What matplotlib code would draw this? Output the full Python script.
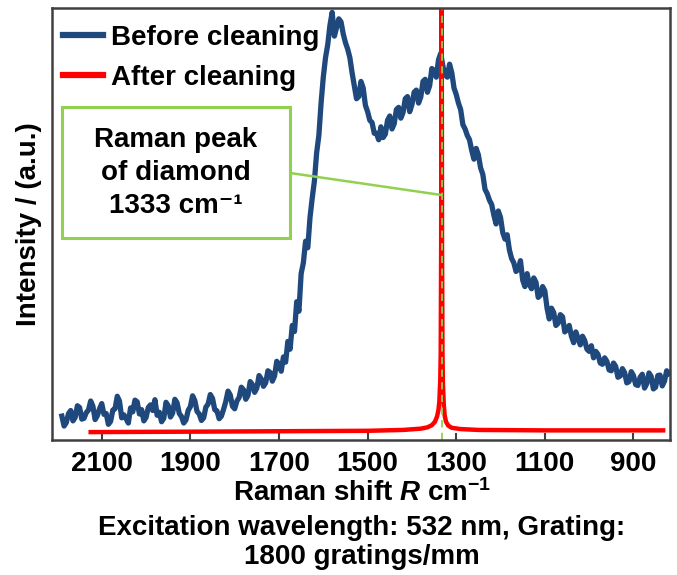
import matplotlib
matplotlib.use("Agg")
import matplotlib.pyplot as plt
import numpy as np
from matplotlib.patches import Rectangle

plt.rcParams["font.family"] = ["Liberation Sans", "DejaVu Sans"]
plt.rcParams["font.weight"] = "bold"
plt.rcParams["mathtext.fontset"] = "custom"
plt.rcParams["mathtext.rm"] = "Liberation Sans:bold"
plt.rcParams["mathtext.it"] = "Liberation Sans:bold:italic"
plt.rcParams["mathtext.bf"] = "Liberation Sans:bold"

# spectrum before cleaning, sampled every 5 cm-1 from 2190 down to 820
shift_before = np.arange(2190, 819, -5)
intensity_before = [
    # 2190-2095
    5.5, 3.2, 4.0, 6.1, 6.8, 4.4, 5.2, 7.9, 7.5, 4.8, 5.0, 6.3, 6.9, 9.0, 7.8, 4.7, 5.6, 7.2, 8.4, 5.9,
    # 2090-1995
    6.1, 3.6, 4.3, 6.9, 7.2, 10.1, 9.0, 5.1, 5.8, 4.9, 3.9, 7.4, 6.5, 9.2, 8.8, 6.0, 7.0, 4.4, 5.2, 7.5,
    # 1990-1895
    8.1, 6.8, 9.3, 5.7, 6.4, 4.2, 5.0, 8.7, 7.9, 5.3, 6.2, 9.4, 8.6, 6.1, 5.4, 3.9, 4.6, 6.8, 7.7, 10.2,
    # 1890-1795
    9.1, 6.6, 6.0, 4.5, 5.1, 7.6, 8.3, 10.5, 9.6, 7.0, 6.7, 4.9, 5.5, 7.1, 8.9, 11.3, 10.4, 7.8, 7.2, 9.0,
    # 1790-1695
    9.8, 12.2, 11.6, 9.4, 10.3, 13.5, 12.8, 11.0, 12.0, 14.9, 14.1, 12.4, 13.2, 16.0, 15.6, 13.6, 14.8, 18.2, 17.5, 15.9,
    # 1690-1595
    19.2, 18.0, 22.8, 21.0, 26.5, 25.1, 32.0, 29.8, 38.5, 41.0, 46.0, 44.5, 51.5, 56.0, 60.0, 66.5, 70.5, 78.0, 84.0, 88.5,
    # 1590-1495
    91.5, 96.0, 99.0, 93.5, 95.5, 97.5, 96.8, 94.0, 92.0, 90.5, 88.5, 85.0, 82.0, 79.0, 79.5, 83.0, 81.5, 77.5, 76.0, 74.0,
    # 1490-1395
    73.5, 71.0, 71.0, 69.5, 72.5, 70.0, 70.8, 74.0, 75.0, 72.0, 73.2, 76.5, 77.0, 74.5, 75.8, 79.0, 79.5, 76.0, 77.6, 80.5,
    # 1390-1295
    81.0, 78.0, 79.4, 83.0, 83.5, 80.5, 82.0, 86.0, 85.5, 84.0, 88.0, 89.5, 86.5, 84.5, 84.0, 87.0, 85.0, 81.5, 80.0, 78.0,
    # 1290-1195
    76.5, 73.0, 72.0, 70.5, 69.5, 67.0, 65.0, 67.5, 66.0, 63.0, 61.5, 58.0, 57.0, 55.5, 54.5, 52.0, 50.0, 53.0, 51.5, 48.0,
    # 1190-1095
    46.5, 47.5, 44.0, 42.0, 41.0, 39.0, 39.5, 41.5, 37.0, 35.5, 38.5, 36.0, 35.0, 37.5, 36.5, 33.0, 33.5, 35.5, 34.5, 30.5,
    # 1090-995
    28.0, 30.5, 29.5, 26.5, 27.0, 29.0, 28.5, 25.0, 25.5, 26.5, 24.0, 22.5, 25.0, 23.5, 22.0, 24.0, 23.0, 21.0, 20.5, 21.8,
    # 990-895
    19.0, 20.5, 19.8, 17.8, 17.5, 19.0, 18.2, 16.2, 16.0, 17.8, 17.0, 14.5, 14.8, 16.5, 15.6, 13.2, 13.5, 15.8, 14.9, 12.8,
    # 890-820
    12.6, 14.5, 15.2, 12.0, 13.0, 15.5, 14.7, 11.8, 12.2, 14.9, 15.0, 12.5, 13.6, 16.0, 15.4,
]

# spectrum after cleaning: only the diamond line remains
shift_after = [2125, 1900, 1700, 1500, 1420, 1380, 1365, 1355, 1348, 1343,
               1340, 1338, 1336, 1335, 1334, 1333, 1332, 1331, 1330, 1328,
               1326, 1323, 1318, 1310, 1290, 1250, 1100, 950, 833]
intensity_after = [1.8, 1.9, 2.0, 2.1, 2.3, 2.6, 2.9, 3.4, 4.2, 5.5,
                   7.0, 9.0, 14.0, 20.0, 45.0, 120.0, 45.0, 20.0, 13.0, 8.0,
                   5.6, 4.2, 3.3, 2.8, 2.5, 2.3, 2.2, 2.2, 2.2]

diamond_peak = 1333
tick_values = [2100, 1900, 1700, 1500, 1300, 1100, 900]

blue = "#1f497d"
red = "#ff0000"
green = "#92d050"
fs = 20

fig = plt.figure(figsize=(6.77, 5.75), dpi=100)
ax = fig.add_axes([0.077, 0.235, 0.913, 0.751])

ax.plot(shift_before, intensity_before, color=blue, lw=3.8,
        solid_joinstyle="round", label="Before cleaning")
ax.plot(shift_after, intensity_after, color=red, lw=3.2, label="After cleaning")
ax.axvline(diamond_peak, color=green, lw=1.3, ls=(0, (4, 3)))

ax.set_xlim(2212, 817)
ax.set_ylim(0, 100)
ax.set_xticks(tick_values)
ax.set_xticklabels([str(t) for t in tick_values], fontsize=fs, fontweight="bold")
ax.set_yticks([])
ax.tick_params(axis="x", direction="in", length=5, width=1.5, color="#404040", pad=8)
for sp in ax.spines.values():
    sp.set_color("#404040")
    sp.set_linewidth(1.8)

ax.set_ylabel("Intensity / (a.u.)", fontsize=fs, fontweight="bold", labelpad=7)

leg = ax.legend(loc="upper left", bbox_to_anchor=(-0.01, 1.0), frameon=False,
                fontsize=fs, handlelength=1.45, handletextpad=0.3, labelspacing=0.5,
                borderaxespad=0.5, borderpad=0.1)
for line in leg.get_lines():
    line.set_linewidth(4.5)

# annotation box for the diamond line
ax.add_patch(Rectangle((0.016, 0.468), 0.369, 0.303, transform=ax.transAxes,
                       fill=False, ec=green, lw=2.2))
ax.text(0.2, 0.618, "Raman peak\nof diamond\n1333 cm\u207b\u00b9", transform=ax.transAxes,
        ha="center", va="center", fontsize=fs, fontweight="bold", linespacing=1.36)
ax.annotate("", xy=(diamond_peak, 56.7), xycoords="data",
            xytext=(0.385, 0.618), textcoords="axes fraction",
            arrowprops=dict(arrowstyle="-", color=green, lw=1.8, shrinkA=0, shrinkB=0))

# captions under the axis, centred on the plot area
cx = 362 / 677
fig.text(cx, 1 - 493 / 575, r"Raman shift $\mathit{R}$ cm$^{-1}$", ha="center",
         va="center", fontsize=fs, fontweight="bold")
fig.text(cx, 1 - 528 / 575, "Excitation wavelength: 532 nm, Grating:", ha="center",
         va="center", fontsize=fs, fontweight="bold")
fig.text(cx, 1 - 557 / 575, "1800 gratings/mm", ha="center",
         va="center", fontsize=fs, fontweight="bold")

fig.savefig("out.png", dpi=100)
